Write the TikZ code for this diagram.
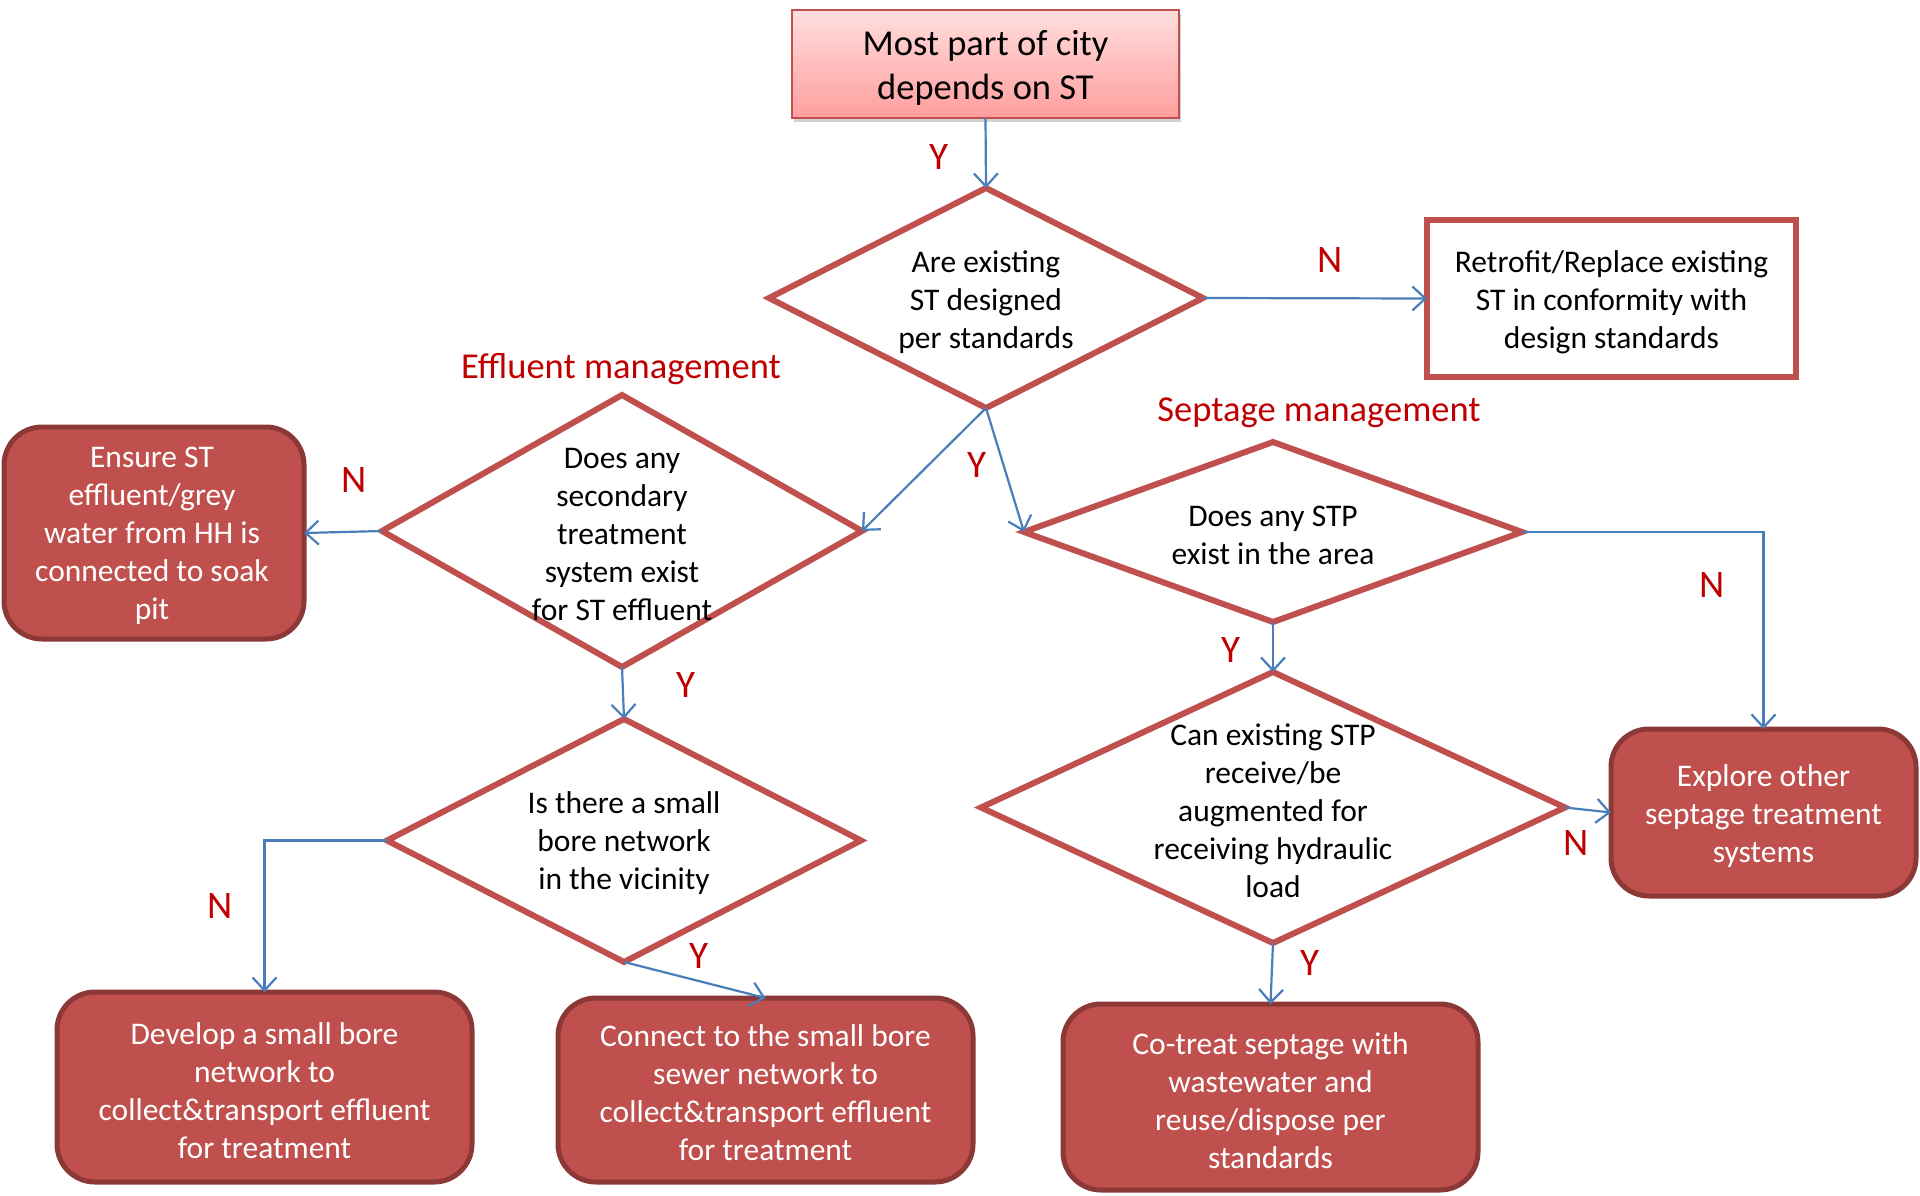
\documentclass[tikz,border=0pt]{standalone}
\usepackage{fontspec}
\setmainfont{Carlito}
\usetikzlibrary{shapes.geometric,arrows.meta,shadows}
\definecolor{dred}{RGB}{192,80,77}
\definecolor{bdark}{RGB}{140,56,54}
\definecolor{lblue}{RGB}{74,126,187}
\definecolor{lab}{RGB}{192,0,0}
\definecolor{pinktop}{RGB}{255,222,222}
\definecolor{pinkbot}{RGB}{255,158,158}
\begin{document}
\begin{tikzpicture}[x=1pt,y=-1pt,
  dia/.style={diamond, draw=dred, line width=6pt, fill=white, inner sep=0pt, outer sep=0pt},
  dtext/.style={align=center, text=black, inner sep=0pt, font=\fontsize{31.5}{38}\selectfont},
  act/.style={rectangle, rounded corners=38pt, draw=bdark, fill=dred, line width=5pt,
    text=white, align=center, inner sep=0pt, outer sep=0pt, font=\fontsize{31.5}{38}\selectfont},
  conn/.style={draw=lblue, line width=2.2pt, -{Straight Barb[length=13pt,width=24pt,line width=2.2pt]}},
  lbl/.style={text=lab, inner sep=0pt, font=\fontsize{39}{44}\selectfont},
  head/.style={text=lab, inner sep=0pt, font=\fontsize{36.5}{44}\selectfont}]
\useasboundingbox (0,0) rectangle (1920,1196);
\fill[white] (0,0) rectangle (1920,1196);

% top box
\node[draw=dred, line width=2pt, top color=pinktop, bottom color=pinkbot,
  minimum width=387pt, minimum height=108pt, inner sep=0pt, outer sep=0pt,
  drop shadow={shadow xshift=2pt, shadow yshift=-4pt, opacity=0.35}] (top) at (985.5,64) {};
\node[align=center, inner sep=0pt, font=\fontsize{36.5}{44}\selectfont] (toptext) at (985.5,68)
  {Most part of city\\depends on ST};

% decisions
\node[dia, minimum width=434pt, minimum height=220pt] (d1) at (986,298) {};
\node[dtext] (t1) at (986,302) {Are existing\\ST designed\\per standards};

\node[dia, minimum width=480pt, minimum height=272pt] (d2) at (622,531) {};
\node[dtext] (t2) at (622,535) {Does any\\secondary\\treatment\\system exist\\for ST effluent};

\node[dia, minimum width=498pt, minimum height=180pt] (d3) at (1273,532) {};
\node[dtext] (t3) at (1273,535) {Does any STP\\exist in the area};

\node[dia, minimum width=474pt, minimum height=243pt] (d4) at (624,840.5) {};
\node[dtext] (t4) at (624,843) {Is there a small\\bore network\\in the vicinity};

\node[dia, minimum width=584pt, minimum height=271pt] (d5) at (1273,807.5) {};
\node[dtext] (t5) at (1273,811) {Can existing STP\\receive/be\\augmented for\\receiving hydraulic\\load};

% outcome boxes
\node[rectangle, draw=dred, fill=white, line width=5.5pt, minimum width=369pt, minimum height=157pt,
  inner sep=0pt, outer sep=0pt] (retro) at (1611.5,298.5) {};
\node[align=center, inner sep=0pt, font=\fontsize{31.5}{38}\selectfont] (retrotext) at (1611.5,302)
  {Retrofit/Replace existing\\ST in conformity with\\design standards};

\node[act, minimum width=300pt, minimum height=212pt] (ensure) at (154,533) {};
\node[act, draw=none, fill=none] (ensuretext) at (152,536)
  {Ensure ST\\effluent/grey\\water from HH is\\connected to soak\\pit};

\node[act, minimum width=305pt, minimum height=167pt] (explore) at (1763.5,812.5) {};
\node[act, draw=none, fill=none] (exploretext) at (1763.5,816)
  {Explore other\\septage treatment\\systems};

\node[act, minimum width=415pt, minimum height=190pt] (develop) at (264.5,1087) {};
\node[act, draw=none, fill=none] (developtext) at (264.5,1091)
  {Develop a small bore\\network to\\collect\&transport effluent\\for treatment};

\node[act, minimum width=415pt, minimum height=184pt] (connect) at (765.5,1090) {};
\node[act, draw=none, fill=none] (connecttext) at (765.5,1093)
  {Connect to the small bore\\sewer network to\\collect\&transport effluent\\for treatment};

\node[act, minimum width=415pt, minimum height=186pt] (cotreat) at (1270.5,1097) {};
\node[act, draw=none, fill=none] (cotreattext) at (1270.5,1101)
  {Co-treat septage with\\wastewater and\\reuse/dispose per\\standards};

% connectors
\draw[conn] (top.south) -- (d1.north);
\draw[conn] (d1.east) -- (retro.west);
\draw[conn] (d1.south) -- (d2.east);
\draw[conn] (d1.south) -- (d3.west);
\draw[conn] (d2.west) -- (ensure.east);
\draw[conn] (d2.south) -- (d4.north);
\draw[conn] (d3.east) -| (explore.north);
\draw[conn] (d3.south) -- (d5.north);
\draw[conn] (d4.west) -| (develop.north);
\draw[conn] (d4.south) -- (connect.north);
\draw[conn] (d5.east) -- (explore.west);
\draw[conn] (d5.south) -- (cotreat.north);

% labels
\node[head] (hEff) at (621,369) {Effluent management};
\node[head] (hSep) at (1319,413) {Septage management};
\node[lbl] (y1) at (939,157) {Y};
\node[lbl] (n1) at (1330,260) {N};
\node[lbl] (n2) at (354,480) {N};
\node[lbl] (y2) at (977,465) {Y};
\node[lbl] (n3) at (1712,585) {N};
\node[lbl] (y3) at (686,685) {Y};
\node[lbl] (y4) at (1231,650) {Y};
\node[lbl] (n4) at (220,906) {N};
\node[lbl] (y5) at (699,956) {Y};
\node[lbl] (n5) at (1576,843) {N};
\node[lbl] (y6) at (1310,963) {Y};
\end{tikzpicture}
\end{document}
